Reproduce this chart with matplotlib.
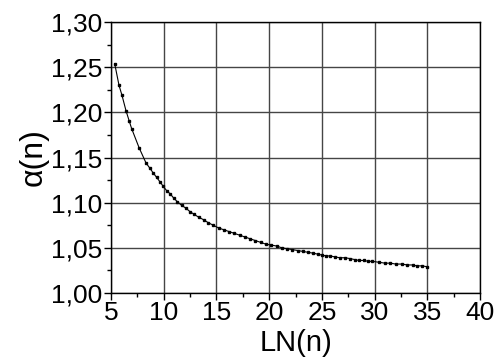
import matplotlib
matplotlib.use('Agg')
import matplotlib.pyplot as plt
from matplotlib.ticker import MultipleLocator, FuncFormatter

plt.rcParams['font.family'] = ['Liberation Sans', 'DejaVu Sans']

# alpha(n) against LN(n)
ln_n = [5.35, 5.76, 6.04, 6.42, 6.74, 6.96, 7.66, 8.32, 8.70, 9.00,
        9.33, 9.65, 9.96, 10.3, 10.6, 10.95, 11.3, 11.7, 12.1, 12.5,
        12.9, 13.3, 13.8, 14.2, 14.7, 15.2, 15.7, 16.2, 16.7, 17.2,
        17.7, 18.2, 18.7, 19.2, 19.7, 20.2, 20.7, 21.2, 21.7, 22.2,
        22.7, 23.2, 23.7, 24.2, 24.6, 25.0, 25.4, 25.8, 26.2, 26.7,
        27.2, 27.7, 28.1, 28.5, 29.0, 29.4, 29.8, 30.4, 31.0, 31.5,
        32.0, 32.6, 33.1, 33.6, 34.0, 34.5, 35.0]
alpha_n = [1.254, 1.230, 1.219, 1.202, 1.190, 1.182, 1.161, 1.144, 1.138, 1.133,
           1.128, 1.123, 1.118, 1.113, 1.110, 1.105, 1.101, 1.097, 1.094, 1.090,
           1.087, 1.084, 1.081, 1.078, 1.075, 1.072, 1.070, 1.068, 1.066, 1.064,
           1.062, 1.060, 1.058, 1.056, 1.054, 1.053, 1.052, 1.050, 1.049, 1.048,
           1.047, 1.046, 1.045, 1.044, 1.043, 1.042, 1.041, 1.041, 1.040, 1.039,
           1.039, 1.038, 1.037, 1.036, 1.036, 1.035, 1.035, 1.034, 1.033, 1.033,
           1.032, 1.032, 1.031, 1.031, 1.030, 1.030, 1.029]

fig = plt.figure(figsize=(5.0, 3.63), dpi=100)
ax = fig.add_axes([0.222, 0.193, 0.738, 0.746])

ax.plot(ln_n, alpha_n, color='black', lw=0.8, marker='s', ms=1.6,
        mec='black', mfc='black', zorder=3)

ax.set_xlim(5, 40)
ax.set_ylim(1.00, 1.30)
ax.xaxis.set_major_locator(MultipleLocator(5))
ax.xaxis.set_minor_locator(MultipleLocator(2.5))
ax.yaxis.set_major_locator(MultipleLocator(0.05))
ax.yaxis.set_minor_locator(MultipleLocator(0.025))
ax.yaxis.set_major_formatter(FuncFormatter(lambda v, p: f'{v:.2f}'.replace('.', ',')))

ax.grid(True, which='major', color='#454545', lw=1.0)
ax.tick_params(which='major', direction='out', length=5, width=1,
               labelsize=19, pad=1)
ax.tick_params(which='minor', direction='out', length=3, width=1)
for s in ax.spines.values():
    s.set_linewidth(1.0)

ax.set_xlabel('LN(n)', fontsize=21, labelpad=3)
ax.set_ylabel('\u03b1(n)', fontsize=23, labelpad=2)

fig.savefig('out.png', dpi=100)
